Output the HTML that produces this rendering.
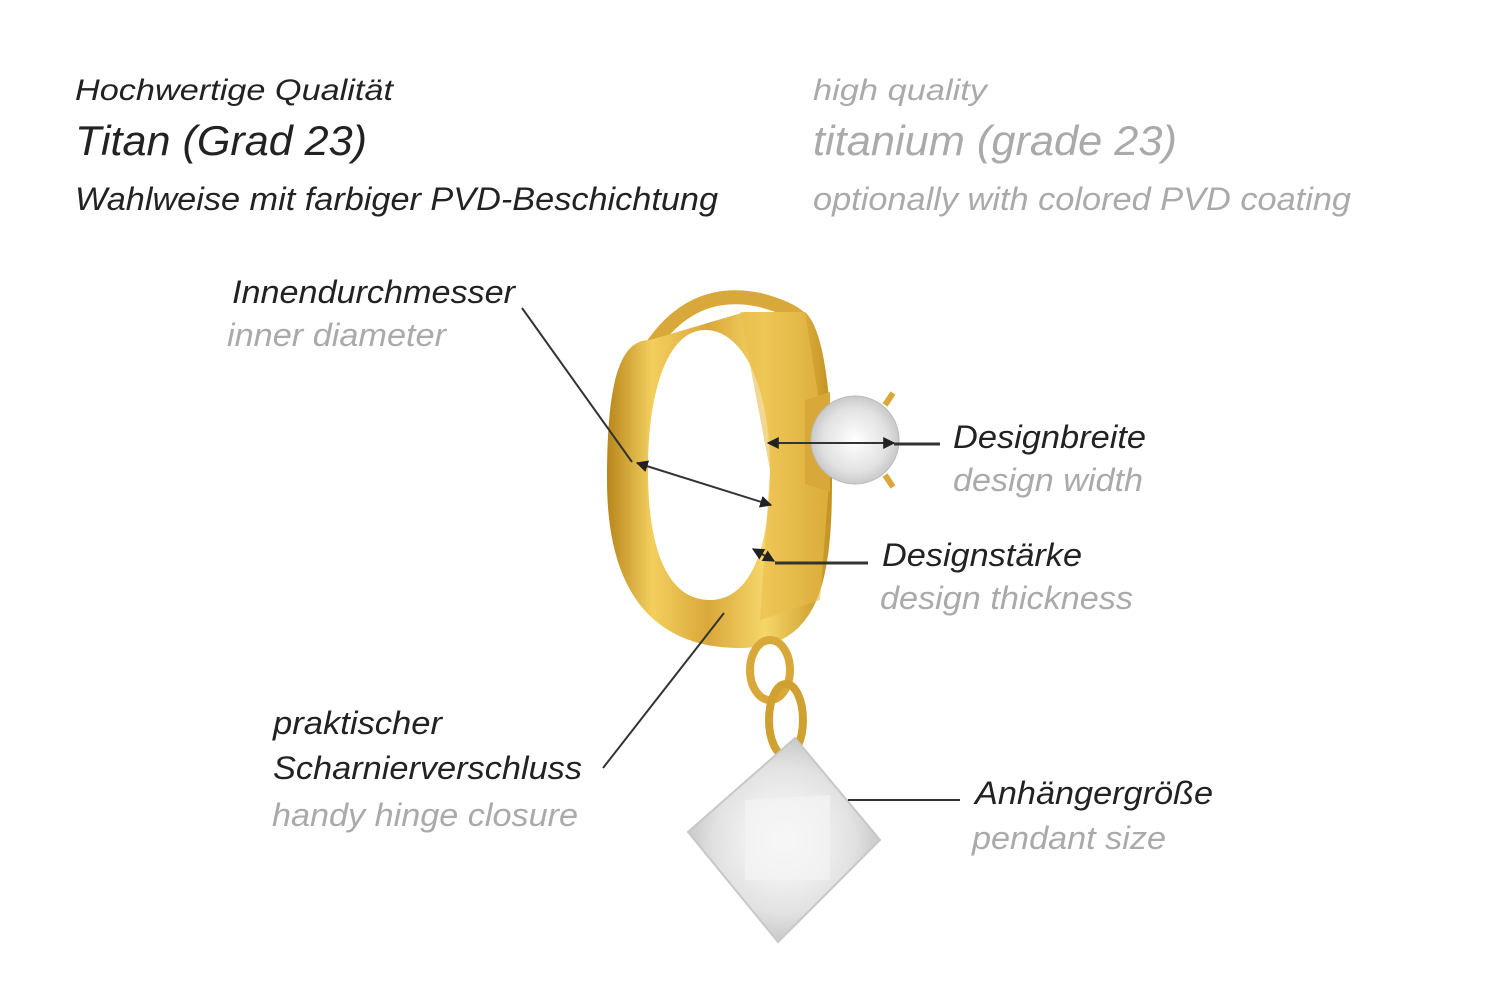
<!DOCTYPE html>
<html><head><meta charset="utf-8"><style>
html,body{margin:0;padding:0;background:#fff;}
svg{display:block;}
text{font-family:"Liberation Sans",sans-serif;font-style:italic;}
.d{fill:#222;}
.g{fill:#aaa;}
</style></head><body>
<svg width="1500" height="1001" viewBox="0 0 1500 1001">
<defs>
<linearGradient id="gold" x1="0" y1="0" x2="1" y2="0">
<stop offset="0" stop-color="#b8861c"/><stop offset="0.2" stop-color="#f3cf5e"/><stop offset="0.45" stop-color="#d9a83a"/><stop offset="0.7" stop-color="#f6d66a"/><stop offset="1" stop-color="#c3911f"/>
</linearGradient>
<radialGradient id="gem" cx="0.5" cy="0.5" r="0.6">
<stop offset="0" stop-color="#ffffff"/><stop offset="0.6" stop-color="#e2e2e2"/><stop offset="1" stop-color="#b8b8b8"/>
</radialGradient>
<marker id="ah" viewBox="0 0 10 10" refX="9" refY="5" markerWidth="6" markerHeight="6" orient="auto-start-reverse"><path d="M0,0L10,5L0,10z" fill="#222"/></marker>
</defs>

<g lengthAdjust="spacingAndGlyphs">
<text class="d" x="75" y="100" font-size="30" textLength="318" lengthAdjust="spacingAndGlyphs">Hochwertige Qualität</text>
<text class="d" x="75" y="155" font-size="42" textLength="292" lengthAdjust="spacingAndGlyphs">Titan (Grad 23)</text>
<text class="d" x="75" y="210" font-size="32" textLength="643" lengthAdjust="spacingAndGlyphs">Wahlweise mit farbiger PVD-Beschichtung</text>
<text class="g" x="813" y="100" font-size="30" textLength="174" lengthAdjust="spacingAndGlyphs">high quality</text>
<text class="g" x="813" y="155" font-size="42" textLength="364" lengthAdjust="spacingAndGlyphs">titanium (grade 23)</text>
<text class="g" x="813" y="210" font-size="32" textLength="538" lengthAdjust="spacingAndGlyphs">optionally with colored PVD coating</text>
</g>

<!-- wire -->
<path d="M648,352 Q690,285 760,300 Q790,308 800,318" fill="none" stroke="#d8a93a" stroke-width="14"/>
<!-- hoop -->
<path fill-rule="evenodd" fill="url(#gold)" d="M607,480 C607,380 620,340 650,340 L745,312 L805,312 C825,330 832,400 832,480 C832,580 820,648 740,648 C660,648 607,600 607,480 Z M648,470 C648,385 670,330 705,330 C745,330 770,390 770,470 C770,560 745,600 710,600 C670,600 648,555 648,470 Z"/>
<path d="M740,312 L805,312 L830,470 L820,600 L760,620 L770,470 Z" fill="#e9bd4a" opacity="0.6"/>
<!-- pendant rings -->
<ellipse cx="770" cy="670" rx="20" ry="30" fill="none" stroke="#d8a93a" stroke-width="8"/>
<ellipse cx="786" cy="720" rx="17" ry="36" fill="none" stroke="#d0a030" stroke-width="8"/>
<!-- square gem -->
<path d="M795,738 L880,840 L778,942 L688,832 Z" fill="url(#gem)" stroke="#c8c8c8" stroke-width="2"/>
<path d="M745,800 L830,795 L830,880 L745,880 Z" fill="#f4f4f4" opacity="0.7"/>
<!-- round gem -->
<path d="M805,400 L830,392 L830,492 L805,484 Z" fill="#d8a93a"/>
<ellipse cx="855" cy="440" rx="44" ry="44" fill="url(#gem)" stroke="#bbb"/>
<path d="M885,405 l8,-12 M885,475 l8,12" stroke="#d8a93a" stroke-width="6"/>

<!-- connectors -->
<g stroke="#333" stroke-width="2" fill="none">
<line x1="522" y1="308" x2="632" y2="462"/>
<line x1="637" y1="463" x2="771" y2="505" marker-start="url(#ah)" marker-end="url(#ah)"/>
<line x1="768" y1="443" x2="894" y2="443" marker-start="url(#ah)" marker-end="url(#ah)"/>
<line x1="894" y1="444" x2="940" y2="444" stroke-width="3"/>
<line x1="753" y1="549" x2="774" y2="561" marker-start="url(#ah)" marker-end="url(#ah)"/>
<line x1="775" y1="563" x2="868" y2="563" stroke-width="3"/>
<line x1="603" y1="768" x2="724" y2="613"/>
<line x1="848" y1="800" x2="960" y2="800"/>
</g>

<text class="d" x="232" y="303" font-size="32" textLength="283" lengthAdjust="spacingAndGlyphs">Innendurchmesser</text>
<text class="g" x="227" y="346" font-size="32" textLength="219" lengthAdjust="spacingAndGlyphs">inner diameter</text>
<text class="d" x="953" y="448" font-size="32" textLength="193" lengthAdjust="spacingAndGlyphs">Designbreite</text>
<text class="g" x="953" y="491" font-size="32" textLength="190" lengthAdjust="spacingAndGlyphs">design width</text>
<text class="d" x="882" y="566" font-size="32" textLength="200" lengthAdjust="spacingAndGlyphs">Designstärke</text>
<text class="g" x="880" y="609" font-size="32" textLength="253" lengthAdjust="spacingAndGlyphs">design thickness</text>
<text class="d" x="273" y="734" font-size="32" textLength="169" lengthAdjust="spacingAndGlyphs">praktischer</text>
<text class="d" x="273" y="779" font-size="32" textLength="309" lengthAdjust="spacingAndGlyphs">Scharnierverschluss</text>
<text class="g" x="272" y="826" font-size="32" textLength="306" lengthAdjust="spacingAndGlyphs">handy hinge closure</text>
<text class="d" x="975" y="804" font-size="32" textLength="238" lengthAdjust="spacingAndGlyphs">Anhängergröße</text>
<text class="g" x="972" y="849" font-size="32" textLength="194" lengthAdjust="spacingAndGlyphs">pendant size</text>
</svg>
</body></html>
